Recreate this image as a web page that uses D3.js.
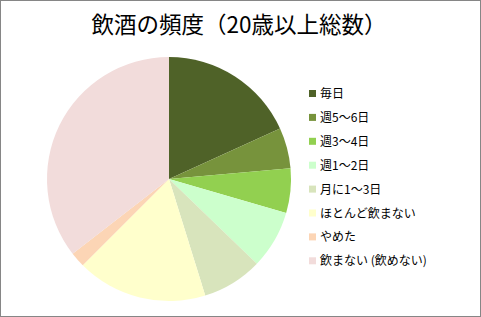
<!DOCTYPE html>
<meta charset="utf-8">
<style>
    body { margin: 0; background: #fff; }
    svg text { font-family: "Noto Sans CJK JP", sans-serif; fill: #000; }
</style>
<script src="https://d3js.org/d3.v7.min.js"></script>
<div id="graph"></div>
<script>
    // categories and shares (%)
    var categories = ["毎日", "週5～6日", "週3～4日", "週1～2日", "月に1～3日", "ほとんど飲まない", "やめた", "飲まない (飲めない)"]
    var shares = [18.2, 5.4, 5.9, 7.7, 8.0, 17.3, 2.0, 35.5]
    var colors = ["#4f6228", "#77933c", "#92d050", "#ccffcc", "#d8e4bc", "#ffffcc", "#fcd5b5", "#f2dcdb"]
    var title = "飲酒の頻度（20歳以上総数）"

    var width = 481, height = 317

    var svg = d3.select("#graph")
        .append("svg")
        .attr("width", width)
        .attr("height", height)

    // outer frame
    svg.append("rect")
        .attr("x", 0.5)
        .attr("y", 0.5)
        .attr("width", width - 1)
        .attr("height", height - 1)
        .attr("fill", "#fff")
        .attr("stroke", "#868686")

    svg.append("text")
        .attr("x", 239)
        .attr("y", 33)
        .attr("text-anchor", "middle")
        .attr("font-size", "22.5px")
        .text(title)

    var data = categories.map(function (c, i) { return { name: c, value: shares[i], color: colors[i] } })

    var pie = d3.pie()
        .sort(null)
        .value(function (d) { return d.value })

    var arc = d3.arc()
        .innerRadius(0)
        .outerRadius(122)

    var g = svg.append("g")
        .attr("transform", "translate(169,179)")

    g.selectAll("path")
        .data(pie(data))
        .enter()
        .append("path")
        .attr("d", arc)
        .attr("fill", function (d) { return d.data.color })

    // legend
    var legend = svg.append("g")
        .attr("transform", "translate(309,93.5)")

    var rows = legend.selectAll("g")
        .data(data)
        .enter()
        .append("g")
        .attr("transform", function (d, i) { return "translate(0," + (i * 23.9) + ")" })

    rows.append("rect")
        .attr("x", 0)
        .attr("y", -3.5)
        .attr("width", 7)
        .attr("height", 7)
        .attr("fill", function (d) { return d.color })

    rows.append("text")
        .attr("x", 11)
        .attr("y", 4.5)
        .attr("font-size", "12px")
        .text(function (d) { return d.name })
</script>
